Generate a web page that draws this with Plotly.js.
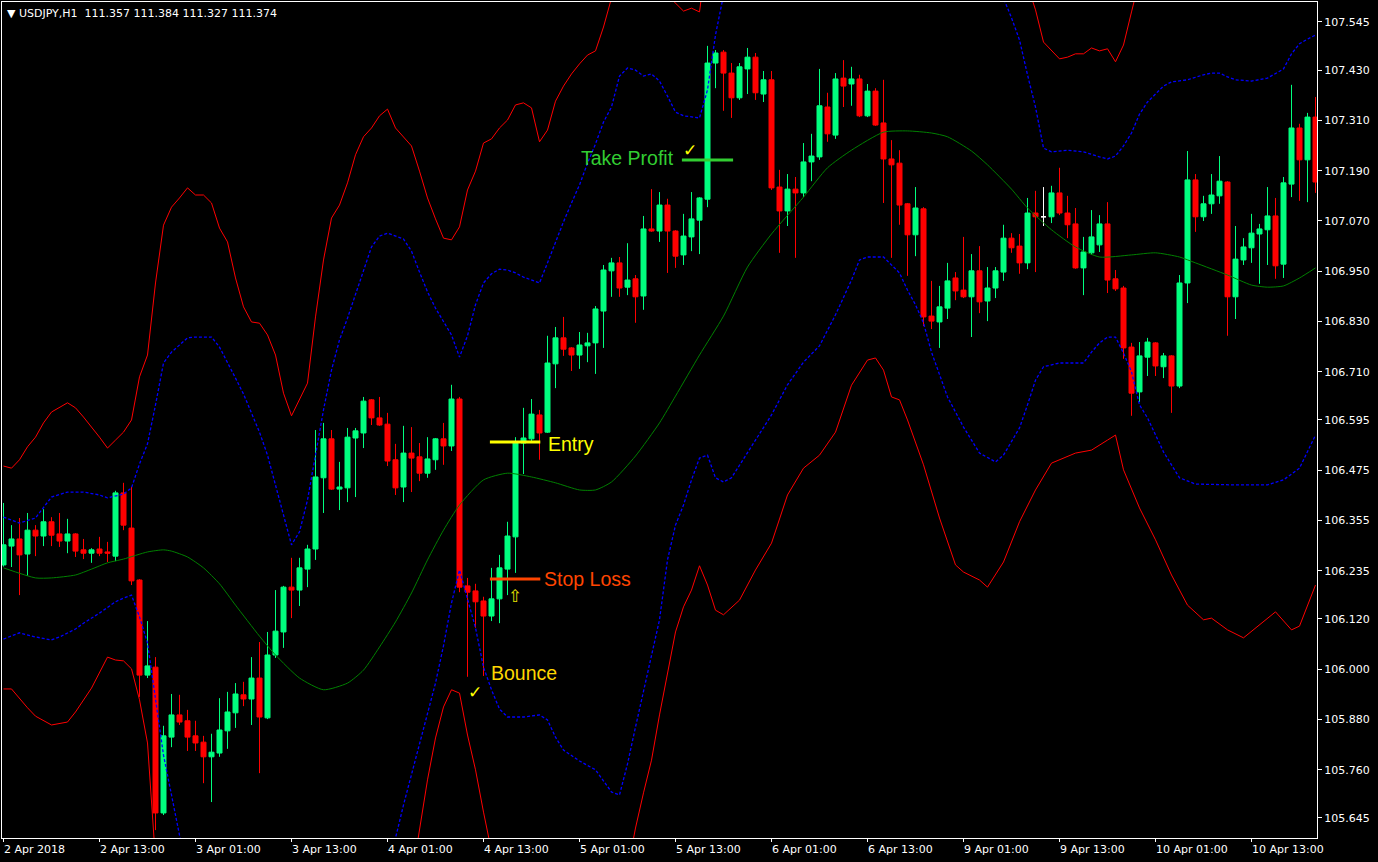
<!DOCTYPE html>
<html><head><meta charset="utf-8">
<script src="https://cdn.plot.ly/plotly-3.0.1.min.js"></script>
<style>html,body{margin:0;padding:0;background:#000;overflow:hidden}#chart{width:1378px;height:862px}</style>
</head><body><div id="chart"></div>
<script>
// ---------- DATA ----------
const headerText = "▼ USDJPY,H1&nbsp; 111.357 111.384 111.327 111.374";
const timeLabels = ["2 Apr 2018","2 Apr 13:00","3 Apr 01:00","3 Apr 13:00","4 Apr 01:00","4 Apr 13:00","5 Apr 01:00","5 Apr 13:00","6 Apr 01:00","6 Apr 13:00","9 Apr 01:00","9 Apr 13:00","10 Apr 01:00","10 Apr 13:00"];
const timeLabelIdx = [0,12,24,36,48,60,72,84,96,108,120,132,144,156];
const priceTicks = [105.645,105.760,105.880,106.000,106.120,106.235,106.355,106.475,106.595,106.710,106.830,106.950,107.070,107.190,107.310,107.430,107.545];

const openP = [106.249,106.294,106.311,106.275,106.332,106.318,106.352,106.323,106.306,106.323,106.285,106.277,106.287,106.280,106.270,106.421,106.337,106.213,105.986,106.005,
105.657,105.838,105.891,105.877,105.841,105.826,105.791,105.800,105.853,105.896,105.939,105.929,105.979,105.884,106.034,106.089,106.196,106.189,106.239,106.287,
106.457,106.550,106.430,106.433,106.552,106.564,106.643,106.600,106.585,106.500,106.435,106.516,106.507,106.468,106.500,106.550,106.533,106.645,106.199,106.187,
106.163,106.127,106.168,106.239,106.316,106.540,106.550,106.607,106.566,106.729,106.791,106.767,106.750,106.772,106.779,106.855,106.951,106.970,106.912,106.932,
106.891,107.051,107.046,107.108,107.046,106.989,107.032,107.072,107.122,107.447,107.473,107.423,107.364,107.433,107.461,107.373,107.407,107.151,107.094,107.146,
107.137,107.211,107.223,107.342,107.275,107.411,107.397,107.409,107.321,107.380,107.304,107.218,107.208,107.111,107.037,107.099,106.843,106.829,106.862,106.934,
106.905,106.889,106.951,106.879,106.910,106.948,107.029,107.010,106.970,107.089,107.080,107.080,107.137,107.089,107.063,106.958,106.994,107.013,107.063,106.932,
106.910,106.769,106.662,106.745,106.779,106.722,106.748,106.676,106.922,107.168,107.080,107.111,107.130,107.163,106.889,106.977,107.006,107.039,107.049,107.082,
106.967,107.158,107.292,107.216,107.318];
const highP = [106.397,106.344,106.361,106.373,106.344,106.382,106.363,106.373,106.359,106.325,106.311,106.289,106.316,106.304,106.426,106.445,106.435,106.215,106.115,106.029,
105.865,105.941,105.939,105.903,105.877,105.841,105.846,105.931,105.946,105.967,105.970,106.029,106.065,106.089,106.189,106.199,106.266,106.266,106.297,106.571,
106.588,106.571,106.495,106.576,106.576,106.650,106.645,106.650,106.612,106.538,106.581,106.578,106.540,106.554,106.552,106.588,106.679,106.650,106.218,106.204,
106.173,106.242,106.273,106.352,106.554,106.624,106.645,106.619,106.796,106.817,106.841,106.769,106.805,106.803,106.867,106.965,106.982,106.984,107.017,106.941,
107.082,107.146,107.139,107.123,107.048,107.087,107.139,107.127,107.488,107.478,107.478,107.447,107.447,107.483,107.471,107.428,107.428,107.192,107.182,107.175,
107.256,107.278,107.433,107.376,107.423,107.454,107.438,107.419,107.397,107.387,107.407,107.263,107.239,107.113,107.151,107.103,106.927,106.915,106.970,106.948,
107.032,106.991,107.010,106.960,106.960,107.061,107.041,107.039,107.125,107.142,107.151,107.154,107.197,107.130,107.101,107.032,107.096,107.084,107.115,106.953,
106.915,106.779,106.781,106.791,106.781,106.755,106.750,106.941,107.237,107.182,107.130,107.182,107.225,107.165,107.058,107.029,107.087,107.063,107.151,107.125,
107.175,107.395,107.302,107.328,107.366];
const lowP = [106.245,106.244,106.177,106.223,106.270,106.294,106.294,106.292,106.277,106.268,106.263,106.254,106.270,106.256,106.258,106.332,106.201,105.934,105.979,105.616,
105.652,105.814,105.867,105.805,105.805,105.728,105.683,105.791,105.810,105.860,105.912,105.867,105.752,105.881,106.027,106.051,106.122,106.151,106.196,106.261,
106.373,106.428,106.380,106.399,106.411,106.528,106.583,106.581,106.485,106.416,106.399,106.423,106.449,106.457,106.476,106.488,106.521,106.184,105.982,106.099,
105.984,106.115,106.110,106.177,106.230,106.466,106.542,106.500,106.564,106.671,106.748,106.712,106.717,106.733,106.705,106.767,106.889,106.889,106.893,106.827,
106.858,107.044,107.020,106.946,106.958,106.965,106.998,106.991,107.103,107.387,107.333,107.316,107.359,107.373,107.359,107.354,107.144,106.994,107.058,106.982,
107.127,107.165,107.216,107.259,107.266,107.342,107.345,107.318,107.318,107.297,107.113,106.982,107.061,106.939,106.986,106.819,106.812,106.767,106.836,106.881,
106.886,106.793,106.850,106.831,106.886,106.927,106.994,106.944,106.955,106.948,107.058,107.065,107.084,107.029,106.956,106.893,106.989,106.996,106.898,106.903,
106.741,106.605,106.638,106.700,106.700,106.695,106.612,106.671,106.874,107.044,107.070,107.087,107.111,106.796,106.836,106.965,106.970,106.920,106.965,106.932,
106.934,107.127,107.118,107.115,107.137];
const closeP = [106.297,106.311,106.273,106.332,106.318,106.352,106.320,106.306,106.323,106.282,106.277,106.285,106.277,106.277,106.421,106.344,106.211,105.986,106.008,105.657,
105.841,105.891,105.874,105.838,105.824,105.791,105.802,105.855,105.898,105.941,105.929,105.979,105.886,106.034,106.091,106.196,106.189,106.242,106.287,106.459,
106.550,106.430,106.435,106.554,106.569,106.640,106.600,106.583,106.497,106.433,106.516,106.504,106.468,106.502,106.550,106.533,106.645,106.196,106.184,106.161,
106.127,106.168,106.242,106.318,106.540,106.552,106.609,106.564,106.731,106.791,106.764,106.750,106.774,106.779,106.860,106.953,106.970,106.910,106.929,106.889,
107.051,107.046,107.108,107.046,106.986,107.034,107.075,107.125,107.447,107.471,107.423,107.364,107.438,107.461,107.376,107.407,107.149,107.094,107.146,107.137,
107.211,107.225,107.345,107.278,107.409,107.392,107.409,107.321,107.380,107.299,107.218,107.204,107.108,107.037,107.101,106.841,106.831,106.865,106.927,106.903,
106.889,106.951,106.877,106.910,106.951,107.029,107.006,106.970,107.089,107.080,107.080,107.137,107.089,107.061,106.958,106.996,107.032,107.063,106.929,106.908,
106.767,106.659,106.748,106.781,106.724,106.748,106.676,106.922,107.168,107.080,107.111,107.132,107.165,106.889,106.979,107.008,107.041,107.051,107.082,106.963,
107.161,107.292,107.216,107.318,107.163];

// indicator bands: [candle index, price]
const upperOuter = [[0,106.485],[1,106.480],[2,106.500],[3,106.531],[4,106.554],[5,106.588],[6,106.614],[8,106.636],[9,106.624],[10,106.602],
[12,106.554],[13,106.528],[14,106.547],[15,106.566],[16,106.595],[17,106.698],[18,106.750],[19,106.922],[20,107.060],[21,107.103],[22,107.125],[23,107.149],[24,107.132],[25,107.132],[26,107.113],[27,107.053],[28,107.020],[29,106.934],[30,106.865],[31,106.829],[32,106.826],[33,106.798],[34,106.750],[35,106.659],[36,106.605],[37,106.643],[38,106.683],[39,106.841],[40,106.977],[41,107.077],[42,107.108],[43,107.161],[44,107.228],[45,107.271],[46,107.292],[47,107.321],[48,107.337],[49,107.292],[50,107.271],[51,107.249],[52,107.189],[53,107.125],[54,107.075],[55,107.029],[56,107.025],[57,107.056],[58,107.144],[59,107.189],[60,107.256],[61,107.266],[62,107.292],[63,107.311],[64,107.347],[65,107.352],[66,107.340],[67,107.259],[68,107.287],[69,107.356],[70,107.392],[71,107.421],[72,107.445],[73,107.466],[74,107.476],[75,107.533],[76,107.602],
[78,107.693],[80,107.717],[82,107.657],[83,107.609],[84,107.590],[85,107.571],[86,107.578],[87,107.569],[88,107.717],
[90,107.860],[95,107.956],[100,107.979],[105,107.956],[110,107.908],[115,107.860],[120,107.788],[125,107.705],[128,107.633],
[129,107.574],[130,107.497],[131,107.478],[132,107.457],[133,107.461],[134,107.469],[135,107.469],[136,107.483],[137,107.476],[138,107.481],[139,107.450],[140,107.490],[141,107.569],[142,107.645],
[145,107.741],[150,107.836],[155,107.884],[160,107.908],[164,107.932]];

const upperInner = [[0,106.363],[2,106.349],[4,106.361],[6,106.411],[8,106.423],[10,106.423],[12,106.416],[13,106.409],[15,106.418],[16,106.433],[17,106.490],[18,106.538],[19,106.631],[20,106.731],[21,106.757],[22,106.774],[23,106.791],[24,106.793],[26,106.793],[27,106.769],[28,106.733],[29,106.695],[30,106.657],[31,106.612],[32,106.566],[33,106.511],[34,106.440],[35,106.368],[36,106.297],[37,106.328],[38,106.404],[39,106.511],[40,106.619],[41,106.714],[42,106.786],[43,106.838],[44,106.896],[45,106.955],[46,107.008],[47,107.034],[48,107.041],[50,107.027],[51,106.998],[52,106.948],[53,106.901],[54,106.862],[55,106.829],[56,106.798],[57,106.745],[58,106.796],[59,106.870],[60,106.922],[61,106.944],[62,106.955],[63,106.953],[64,106.946],[65,106.936],[66,106.929],[67,106.922],[68,106.970],[69,107.020],[70,107.068],[71,107.113],[72,107.156],[73,107.208],[74,107.254],[75,107.306],[76,107.342],[77,107.416],[78,107.435],[79,107.430],[80,107.416],[81,107.421],[82,107.404],[83,107.368],[84,107.330],[85,107.321],[86,107.318],[87,107.316],[88,107.383],[89,107.514],[90,107.609],[91,107.693],[95,107.812],[100,107.860],[105,107.860],[110,107.836],[115,107.788],[120,107.717],[124,107.633],[125,107.602],[126,107.555],[127,107.502],[128,107.419],[129,107.342],[130,107.244],[131,107.235],[133,107.239],[135,107.235],[137,107.223],[138,107.218],[139,107.225],[140,107.249],[141,107.280],[142,107.325],[143,107.354],[144,107.373],[145,107.392],[146,107.402],[148,107.407],[150,107.419],[151,107.423],[152,107.423],[153,107.414],[154,107.407],[156,107.404],[158,107.411],[159,107.421],[160,107.433],[161,107.469],[162,107.493],[163,107.504],[164,107.514]];

const middleLine = [[0,106.242],[4,106.218],[6,106.218],[9,106.225],[11,106.239],[13,106.254],[15,106.263],[18,106.280],[20,106.285],[21,106.282],[23,106.268],[25,106.242],[27,106.204],[29,106.153],[32,106.079],[34,106.034],[37,105.979],[40,105.951],[43,105.967],[45,105.998],[47,106.053],[49,106.113],[51,106.182],[53,106.261],[55,106.332],[57,106.392],[60,106.452],[63,106.468],[66,106.459],[69,106.445],[72,106.428],[74,106.428],[76,106.447],[79,106.509],[82,106.588],[84,106.652],[87,106.750],[90,106.843],[93,106.960],[96,107.039],[100,107.127],[103,107.197],[106,107.239],[110,107.282],[113,107.285],[116,107.280],[118,107.271],[121,107.237],[123,107.204],[126,107.146],[128,107.101],[131,107.049],[134,107.008],[137,106.984],[141,106.989],[144,106.994],[147,106.984],[149,106.970],[153,106.941],[156,106.917],[158,106.912],[160,106.915],[162,106.934],[164,106.958]];

const lowerInner = [[0,106.072],[2,106.087],[4,106.077],[6,106.070],[7,106.077],[9,106.096],[10,106.110],[12,106.134],[14,106.161],[15,106.170],[16,106.177],[17,106.125],[18,106.063],[19,105.934],[20,105.795],[21,105.700],[22,105.604],[23,105.521],[25,105.402],[30,105.330],[35,105.378],[40,105.402],[45,105.473],[48,105.545],[49,105.597],[50,105.676],[51,105.750],[52,105.824],[53,105.896],[54,105.967],[55,106.056],[56,106.158],[57,106.237],[58,106.165],[59,106.099],[60,106.005],[61,105.951],[62,105.905],[63,105.886],[65,105.886],[67,105.891],[68,105.879],[69,105.838],[70,105.807],[71,105.795],[72,105.781],[74,105.760],[76,105.707],[77,105.700],[78,105.774],[79,105.862],[80,105.946],[81,106.029],[82,106.118],[83,106.261],[84,106.344],[85,106.392],[86,106.452],[87,106.504],[88,106.511],[89,106.457],[90,106.447],[91,106.457],[92,106.488],[93,106.519],[94,106.547],[96,106.607],[98,106.679],[100,106.733],[102,106.772],[104,106.846],[106,106.929],[107,106.977],[108,106.984],[110,106.984],[111,106.965],[112,106.946],[113,106.905],[114,106.870],[115,106.827],[116,106.757],[118,106.650],[120,106.578],[122,106.516],[124,106.495],[125,106.511],[127,106.576],[128,106.631],[129,106.690],[130,106.722],[132,106.731],[135,106.731],[136,106.757],[137,106.779],[138,106.793],[139,106.793],[140,106.755],[141,106.710],[142,106.631],[143,106.600],[145,106.519],[147,106.457],[149,106.442],[154,106.440],[158,106.440],[160,106.452],[162,106.480],[164,106.559]];

const lowerOuter = [[0,105.953],[1,105.953],[3,105.908],[4,105.888],[6,105.867],[8,105.874],[9,105.898],[11,105.955],[13,106.029],[14,106.022],[15,106.020],[16,106.001],[17,105.927],[18,105.824],[19,105.545],[20,105.330],[22,105.211],[25,105.187],[30,105.258],[35,105.330],[40,105.306],[45,105.306],[50,105.378],[51,105.497],[52,105.616],[53,105.736],[54,105.836],[55,105.910],[56,105.951],[57,105.943],[58,105.843],[59,105.760],[60,105.659],[61,105.569],[62,105.473],[65,105.330],[70,105.258],[75,105.330],[77,105.449],[78,105.521],[79,105.621],[80,105.705],[81,105.783],[82,105.891],[83,105.986],[84,106.089],[85,106.149],[86,106.189],[87,106.247],[88,106.201],[89,106.141],[90,106.130],[92,106.165],[94,106.237],[96,106.301],[98,106.416],[100,106.480],[102,106.511],[104,106.566],[106,106.678],[108,106.738],[109,106.743],[110,106.714],[111,106.650],[112,106.643],[113,106.595],[115,106.488],[117,106.361],[119,106.249],[120,106.232],[122,106.213],[123,106.196],[125,106.256],[127,106.352],[129,106.428],[131,106.492],[134,106.516],[136,106.523],[138,106.547],[139,106.559],[140,106.476],[142,106.385],[144,106.309],[146,106.225],[148,106.153],[150,106.118],[151,106.122],[153,106.094],[155,106.075],[157,106.106],[159,106.137],[161,106.094],[162,106.103],[164,106.201]];

// trade markup levels
const takeProfitLevel = 107.2156;
const entryLevel = 106.5425;
const stopLossLevel = 106.2155;
const bounceLevel = 105.991;

// ---------- BUILD ----------
const n = openP.length;
const idx = Array.from({length:n}, (_, i) => i);
function subset(test) {
  const s = {x:[], open:[], high:[], low:[], close:[]};
  idx.forEach(i => { if (test(i)) { s.x.push(i); s.open.push(openP[i]); s.high.push(highP[i]); s.low.push(lowP[i]); s.close.push(closeP[i]); } });
  return s;
}
const bullCol = '#00ff7f', bearCol = '#ff0000';
function candleTrace(s, col) {
  return Object.assign({type:'candlestick', hoverinfo:'skip', showlegend:false, whiskerwidth:0,
    increasing:{line:{color:col, width:1}, fillcolor:col},
    decreasing:{line:{color:col, width:1}, fillcolor:col}}, s);
}
function bandTrace(pts, color, dash, width, shape) {
  return {type:'scatter', mode:'lines', hoverinfo:'skip', showlegend:false,
    x: pts.map(p => p[0]), y: pts.map(p => p[1]),
    line:{color:color, width:width, dash:dash, shape:shape || 'linear', smoothing:0.6}};
}

const traces = [
  candleTrace(subset(i => closeP[i] > openP[i]), bullCol),
  candleTrace(subset(i => closeP[i] < openP[i]), bearCol),
  candleTrace(subset(i => closeP[i] === openP[i]), '#ffffff'),
  bandTrace(upperOuter, '#ff0000', 'solid', 1),
  bandTrace(lowerOuter, '#ff0000', 'solid', 1),
  bandTrace(upperInner, '#0000ff', '3px,2px', 1.3),
  bandTrace(lowerInner, '#0000ff', '3px,2px', 1.3),
  bandTrace(middleLine, '#008000', 'solid', 1, 'spline')
];

const annFont = 'Liberation Sans, Arial, sans-serif';
const annotations = timeLabels.map((t, k) => ({
  x: timeLabelIdx[k], xref:'x', y:0, yref:'paper', xanchor:'left', yanchor:'top',
  yshift:-3, xshift:-2, showarrow:false, text:t,
  font:{family:'DejaVu Sans, sans-serif', size:11, color:'#ffffff'}
}));
annotations.push(
  {x:0, xref:'paper', y:1, yref:'paper', xanchor:'left', yanchor:'top', xshift:3, yshift:-3, showarrow:false,
   text:headerText, font:{family:'DejaVu Sans, sans-serif', size:11, color:'#ffffff'}},
  {x:84.05, xref:'x', y:takeProfitLevel, yref:'y', xanchor:'right', yanchor:'middle', yshift:2, showarrow:false,
   text:'Take Profit', font:{family:annFont, size:19.5, color:'#32cd32'}},
  {x:85.8, xref:'x', y:takeProfitLevel, yref:'y', xanchor:'center', yanchor:'middle', yshift:10, showarrow:false,
   text:'✓', font:{family:'DejaVu Sans, sans-serif', size:17, color:'#ffff00'}},
  {x:68.05, xref:'x', y:entryLevel, yref:'y', xanchor:'left', yanchor:'middle', yshift:-2, xshift:-2, showarrow:false,
   text:'Entry', font:{family:annFont, size:19.5, color:'#ffff00'}},
  {x:67.55, xref:'x', y:stopLossLevel, yref:'y', xanchor:'left', yanchor:'middle', xshift:-2, showarrow:false,
   text:'Stop Loss', font:{family:annFont, size:19.5, color:'#ff4500'}},
  {x:60.9, xref:'x', y:bounceLevel, yref:'y', xanchor:'left', yanchor:'middle', xshift:-2, showarrow:false,
   text:'Bounce', font:{family:annFont, size:19.5, color:'#ffd700'}},
  {x:58.95, xref:'x', y:bounceLevel, yref:'y', xanchor:'center', yanchor:'middle', yshift:-19, showarrow:false,
   text:'✓', font:{family:'DejaVu Sans, sans-serif', size:17, color:'#ffff00'}},
  {x:63.95, xref:'x', y:stopLossLevel, yref:'y', xanchor:'center', yanchor:'middle', yshift:-17, showarrow:false,
   text:'⇧', font:{family:'DejaVu Sans, sans-serif', size:17, color:'#e8e000'}}
);

const shapes = [
  {type:'line', xref:'x', yref:'y', x0:84.8, x1:91.2, y0:takeProfitLevel, y1:takeProfitLevel, line:{color:'#32cd32', width:3}},
  {type:'line', xref:'x', yref:'y', x0:60.8, x1:67.1, y0:entryLevel, y1:entryLevel, line:{color:'#ffff00', width:3}},
  {type:'line', xref:'x', yref:'y', x0:60.8, x1:67.1, y0:stopLossLevel, y1:stopLossLevel, line:{color:'#ff4500', width:3}}
];

const layout = {
  width:1378, height:862,
  paper_bgcolor:'#000000', plot_bgcolor:'#000000',
  margin:{l:2, r:61, t:2, b:24, pad:0},
  showlegend:false,
  boxgap:0.375, boxgroupgap:0,
  xaxis:{range:[-0.1875, 164.1875], showgrid:false, zeroline:false, rangeslider:{visible:false},
    showline:true, mirror:true, linecolor:'#ffffff', linewidth:1,
    tickmode:'array', tickvals:timeLabelIdx, ticks:'outside', ticklen:3, tickcolor:'#ffffff', showticklabels:false, fixedrange:true},
  yaxis:{range:[105.5972, 107.5927], side:'right', showgrid:false, zeroline:false,
    showline:true, mirror:true, linecolor:'#ffffff', linewidth:1,
    tickmode:'array', tickvals:priceTicks, ticktext:priceTicks.map(v => v.toFixed(3)),
    ticks:'outside', ticklen:4, tickcolor:'#ffffff',
    tickfont:{family:'DejaVu Sans, sans-serif', size:11, color:'#ffffff'}, fixedrange:true},
  annotations:annotations,
  shapes:shapes
};

Plotly.newPlot('chart', traces, layout, {displayModeBar:false, staticPlot:true});
</script>
</body></html>
